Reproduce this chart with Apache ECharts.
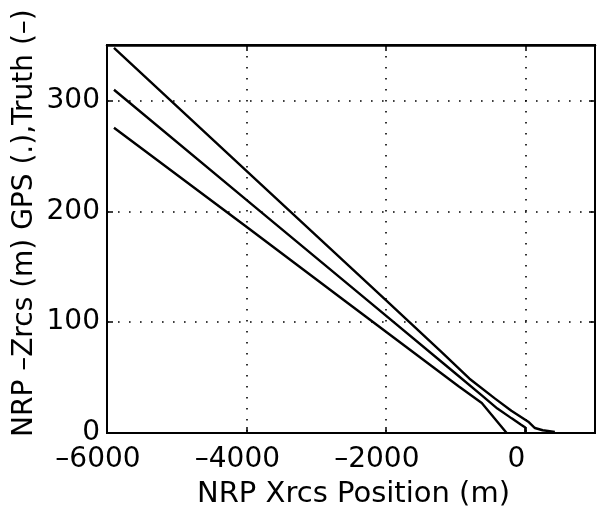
<!DOCTYPE html>
<html>
<head>
<meta charset="utf-8">
<script src="https://cdn.jsdelivr.net/npm/echarts@6/dist/echarts.min.js"></script>
<style>
html,body{margin:0;padding:0;background:#fff;}
#chart{width:597px;height:519px;}
</style>
</head>
<body>
<div id="chart"></div>
<script>
// Top line
var lineAX = [-5900, -4000, -2000, -1200, -800, -433, -200, 43, 138, 250, 424];
var lineAY = [347.5, 236.5, 119.8, 73, 49, 31, 20, 10.2, 4.5, 2.5, 1];
// Middle line
var lineBX = [-5900, -3957, -2267, -1000, -624, -400, -195, -60, 0, 0];
var lineBY = [309.6, 208, 119.8, 53.7, 34, 22, 13.2, 7.5, 5, 0];
// Bottom line
var lineCX = [-5900, -3957, -2600, -957, -624, -267];
var lineCY = [275.4, 184, 119.8, 42.1, 27, 0];

var xTicks = {min: -6000, max: 1000, interval: 2000};
var yTicks = {min: 0, max: 350, interval: 100};
var xTitle = 'NRP Xrcs Position (m)';
var yTitle = 'NRP \u2013Zrcs (m) GPS (.),Truth (\u2013)';

function pairs(xs, ys){ return xs.map(function(x,i){ return [x, ys[i]]; }); }
function fmt(v){ return v < 0 ? '\u2013' + Math.abs(v) : String(v); }

var FONT = 'DejaVu Sans';
var chart = echarts.init(document.getElementById('chart'), null, {renderer:'canvas'});
var gridDash = {show:true, lineStyle:{color:'#000', width:1.6, type:[1.6, 9.4]}};
var lineStyle = {color:'#000', width:2.4};
var tickStyle = {show:true, inside:true, length:6, lineStyle:{color:'#000', width:1.5}};
chart.setOption({
  animation:false,
  backgroundColor:'#fff',
  grid:{left:107, right:2, top:45, bottom:86, show:true, borderColor:'#000', borderWidth:2, backgroundColor:'transparent'},
  xAxis:[{
    type:'value', min:xTicks.min, max:xTicks.max, interval:xTicks.interval,
    axisLine:{show:true, onZero:false, lineStyle:{color:'#000', width:2}},
    axisTick:tickStyle,
    axisLabel:{formatter:fmt, color:'#000', fontFamily:FONT, fontSize:28, margin:13, padding:[0,18,0,0], showMaxLabel:false},
    splitLine:gridDash
  },{
    type:'value', position:'top', min:xTicks.min, max:xTicks.max, interval:xTicks.interval,
    axisLine:{show:true, onZero:false, lineStyle:{color:'#000', width:2.5}},
    axisTick:tickStyle,
    axisLabel:{show:false}, splitLine:{show:false}
  }],
  yAxis:[{
    type:'value', min:yTicks.min, max:yTicks.max, interval:yTicks.interval,
    axisLine:{show:true, onZero:false, lineStyle:{color:'#000', width:2}},
    axisTick:tickStyle,
    axisLabel:{color:'#000', fontFamily:FONT, fontSize:28, margin:7, showMaxLabel:false},
    splitLine:gridDash
  },{
    type:'value', position:'right', min:yTicks.min, max:yTicks.max, interval:yTicks.interval,
    axisLine:{show:true, onZero:false, lineStyle:{color:'#000', width:2}},
    axisTick:tickStyle,
    axisLabel:{show:false}, splitLine:{show:false}
  }],
  graphic:[
    {type:'text', x:197, y:480, style:{text:xTitle, fill:'#000', font:'29px "DejaVu Sans"', textAlign:'left', textVerticalAlign:'top'}},
    {type:'text', rotation:Math.PI/2, x:11, y:437, style:{text:yTitle, fill:'#000', font:'28px "DejaVu Sans"', textAlign:'left', textVerticalAlign:'top'}}
  ],
  series:[
    {type:'line', name:'A', data:pairs(lineAX, lineAY), showSymbol:false, lineStyle:lineStyle, itemStyle:{color:'#000'}},
    {type:'line', name:'B', data:pairs(lineBX, lineBY), showSymbol:false, lineStyle:lineStyle, itemStyle:{color:'#000'}},
    {type:'line', name:'C', data:pairs(lineCX, lineCY), showSymbol:false, lineStyle:lineStyle, itemStyle:{color:'#000'}}
  ]
});
</script>
</body>
</html>
